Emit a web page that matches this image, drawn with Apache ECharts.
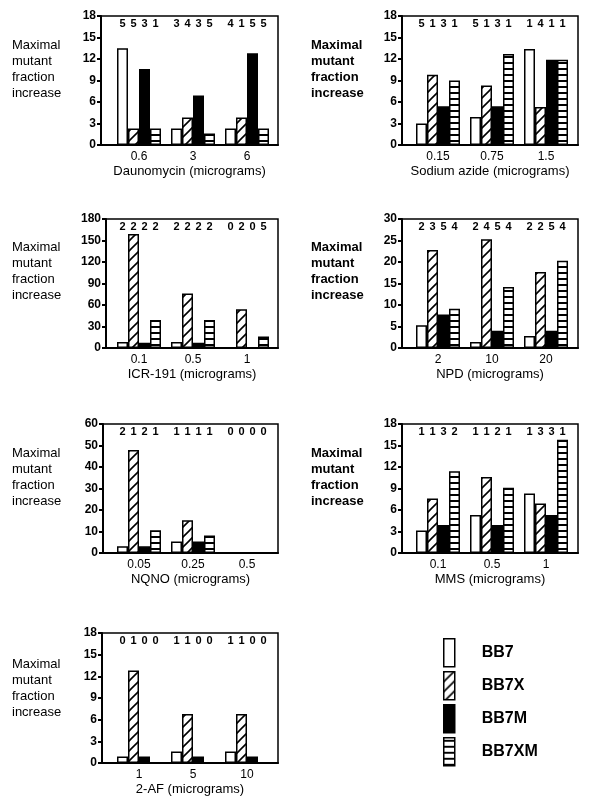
<!DOCTYPE html>
<html>
<head>
<meta charset="utf-8">
<script src="https://cdn.jsdelivr.net/npm/echarts@6/dist/echarts.min.js"></script>
<style>
html,body{margin:0;padding:0;background:#fff;}
#chart{width:597px;height:809px;}
</style>
</head>
<body>
<div id="chart"></div>
<script>
// ---------------- DATA ----------------
const strains = ['BB7', 'BB7X', 'BB7M', 'BB7XM'];

// Daunomycin
const daunoDoses = ['0.6', '3', '6'];
const daunoBB7 = [13.5, 2.3, 2.3];
const daunoBB7X = [2.3, 3.85, 3.85];
const daunoBB7M = [10.6, 6.9, 12.8];
const daunoBB7XM = [2.3, 1.6, 2.3];
const daunoN = [[5, 5, 3, 1], [3, 4, 3, 5], [4, 1, 5, 5]];
const daunoAxis = [0, 18, 3];

// Sodium azide
const azideDoses = ['0.15', '0.75', '1.5'];
const azideBB7 = [3.0, 3.9, 13.4];
const azideBB7X = [9.8, 8.3, 5.3];
const azideBB7M = [5.4, 5.4, 11.9];
const azideBB7XM = [9.0, 12.7, 11.9];
const azideN = [[5, 1, 3, 1], [5, 1, 3, 1], [1, 4, 1, 1]];
const azideAxis = [0, 18, 3];

// ICR-191
const icrDoses = ['0.1', '0.5', '1'];
const icrBB7 = [8.4, 8.4, 0];
const icrBB7X = [159, 76, 54];
const icrBB7M = [7.5, 7.5, 0];
const icrBB7XM = [39, 39, 16];
const icrN = [[2, 2, 2, 2], [2, 2, 2, 2], [0, 2, 0, 5]];
const icrAxis = [0, 180, 30];

// NPD
const npdDoses = ['2', '10', '20'];
const npdBB7 = [5.3, 1.4, 2.8];
const npdBB7X = [22.8, 25.3, 17.7];
const npdBB7M = [7.8, 4.0, 4.0];
const npdBB7XM = [9.1, 14.2, 20.3];
const npdN = [[2, 3, 5, 4], [2, 4, 5, 4], [2, 2, 5, 4]];
const npdAxis = [0, 30, 5];

// NQNO
const nqnoDoses = ['0.05', '0.25', '0.5'];
const nqnoBB7 = [3.1, 5.4, 0];
const nqnoBB7X = [47.9, 15.2, 0];
const nqnoBB7M = [3.1, 5.4, 0];
const nqnoBB7XM = [10.6, 8.1, 0];
const nqnoN = [[2, 1, 2, 1], [1, 1, 1, 1], [0, 0, 0, 0]];
const nqnoAxis = [0, 60, 10];

// MMS
const mmsDoses = ['0.1', '0.5', '1'];
const mmsBB7 = [3.15, 5.3, 8.3];
const mmsBB7X = [7.6, 10.6, 6.9];
const mmsBB7M = [3.9, 3.9, 5.3];
const mmsBB7XM = [11.4, 9.1, 15.8];
const mmsN = [[1, 1, 3, 2], [1, 1, 2, 1], [1, 3, 3, 1]];
const mmsAxis = [0, 18, 3];

// 2-AF
const afDoses = ['1', '5', '10'];
const afBB7 = [0.9, 1.6, 1.6];
const afBB7X = [12.8, 6.8, 6.8];
const afBB7M = [0.9, 0.9, 0.9];
const afBB7XM = [0, 0, 0];
const afN = [[0, 1, 0, 0], [1, 1, 0, 0], [1, 1, 0, 0]];
const afAxis = [0, 18, 3];

const yTitle = 'Maximal\nmutant\nfraction\nincrease';

// ---------------- LAYOUT ----------------
const FONT = "'Liberation Sans', Arial, Helvetica, sans-serif";
const panels = [
  {name: 'Daunomycin (micrograms)', doses: daunoDoses, vals: [daunoBB7, daunoBB7X, daunoBB7M, daunoBB7XM], n: daunoN, axis: daunoAxis,
   frame: [101, 16, 177, 129], barX: 112, titleX: 12, titleY: 37, bold: false},
  {name: 'Sodium azide (micrograms)', doses: azideDoses, vals: [azideBB7, azideBB7X, azideBB7M, azideBB7XM], n: azideN, axis: azideAxis,
   frame: [402, 16, 176, 129], barX: 411, titleX: 311, titleY: 37, bold: true},
  {name: 'ICR-191 (micrograms)', doses: icrDoses, vals: [icrBB7, icrBB7X, icrBB7M, icrBB7XM], n: icrN, axis: icrAxis,
   frame: [106, 219, 172, 129], barX: 112, titleX: 12, titleY: 239, bold: false},
  {name: 'NPD (micrograms)', doses: npdDoses, vals: [npdBB7, npdBB7X, npdBB7M, npdBB7XM], n: npdN, axis: npdAxis,
   frame: [402, 219, 176, 129], barX: 411, titleX: 311, titleY: 239, bold: true},
  {name: 'NQNO (micrograms)', doses: nqnoDoses, vals: [nqnoBB7, nqnoBB7X, nqnoBB7M, nqnoBB7XM], n: nqnoN, axis: nqnoAxis,
   frame: [103, 424, 175, 129], barX: 112, titleX: 12, titleY: 445, bold: false},
  {name: 'MMS (micrograms)', doses: mmsDoses, vals: [mmsBB7, mmsBB7X, mmsBB7M, mmsBB7XM], n: mmsN, axis: mmsAxis,
   frame: [402, 424, 176, 129], barX: 411, titleX: 311, titleY: 445, bold: true},
  {name: '2-AF (micrograms)', doses: afDoses, vals: [afBB7, afBB7X, afBB7M, afBB7XM], n: afN, axis: afAxis,
   frame: [102, 633, 176, 130], barX: 112, titleX: 12, titleY: 656, bold: false}
];

// ---------------- PATTERNS ----------------
function diagPattern() {
  const c = document.createElement('canvas');
  c.width = 10; c.height = 10;
  const g = c.getContext('2d');
  g.fillStyle = '#fff'; g.fillRect(0, 0, 10, 10);
  g.strokeStyle = '#000'; g.lineWidth = 1.6;
  g.beginPath();
  g.moveTo(-2, 12); g.lineTo(12, -2);
  g.moveTo(-7, 7); g.lineTo(7, -7);
  g.moveTo(3, 17); g.lineTo(17, 3);
  g.stroke();
  return c;
}
function horizPattern() {
  const c = document.createElement('canvas');
  c.width = 6; c.height = 6;
  const g = c.getContext('2d');
  g.fillStyle = '#fff'; g.fillRect(0, 0, 6, 6);
  g.fillStyle = '#000'; g.fillRect(0, 2, 6, 2);
  return c;
}
const fills = [
  '#ffffff',
  {image: diagPattern(), repeat: 'repeat'},
  '#000000',
  {image: horizPattern(), repeat: 'repeat'}
];

// ---------------- OPTION ----------------
const grid = [], xAxis = [], yAxis = [], series = [], title = [];
panels.forEach((p, k) => {
  const [fl, ft, fw, fh] = p.frame;
  const [ymin, ymax, yint] = p.axis;
  const gFrame = grid.length;
  grid.push({left: fl, top: ft, width: fw, height: fh, show: true, borderColor: '#000', borderWidth: 1.5, backgroundColor: 'transparent'});
  const gBar = grid.length;
  grid.push({left: p.barX, top: ft, width: 162, height: fh});

  const xFrame = xAxis.length;
  xAxis.push({type: 'category', gridIndex: gFrame, data: p.doses,
    axisLine: {show: true, lineStyle: {color: '#000', width: 2}}, axisTick: {show: false}, axisLabel: {show: false},
    name: p.name, nameLocation: 'middle', nameGap: 20,
    nameTextStyle: {fontFamily: FONT, fontSize: 13, color: '#000'}});
  const xBar = xAxis.length;
  xAxis.push({type: 'category', gridIndex: gBar, data: p.doses,
    axisLine: {show: false}, axisTick: {show: false},
    axisLabel: {fontFamily: FONT, fontSize: 12, color: '#000', margin: 6}});
  const xCnt = xAxis.length;
  xAxis.push({type: 'category', gridIndex: gBar, data: p.doses, show: false});

  const yFrame = yAxis.length;
  yAxis.push({type: 'value', gridIndex: gFrame, min: ymin, max: ymax, interval: yint,
    axisLine: {show: true, lineStyle: {color: '#000', width: 2}},
    axisTick: {show: true, length: 4, lineStyle: {color: '#000', width: 2}},
    splitLine: {show: false},
    axisLabel: {fontFamily: FONT, fontSize: 12, fontWeight: 'bold', color: '#000', margin: 5}});
  const yBar = yAxis.length;
  yAxis.push({type: 'value', gridIndex: gBar, min: ymin, max: ymax, interval: yint, show: false, splitLine: {show: false}});

  strains.forEach((s, i) => {
    series.push({type: 'bar', name: s, xAxisIndex: xBar, yAxisIndex: yBar,
      data: p.vals[i], barWidth: 11, barGap: '0%',
      itemStyle: {color: fills[i], borderColor: '#000', borderWidth: 1.5},
      emphasis: {disabled: true}, silent: true, animation: false});
  });
  strains.forEach((s, i) => {
    series.push({type: 'bar', name: 'n-' + s, xAxisIndex: xCnt, yAxisIndex: yBar,
      data: p.doses.map(() => ymax), barWidth: 11, barGap: '0%',
      itemStyle: {color: 'rgba(0,0,0,0)', borderWidth: 0},
      label: {show: true, position: 'insideTop', distance: 2, fontFamily: FONT, fontSize: 11, fontWeight: 'bold', color: '#000',
        formatter: (q) => String(p.n[q.dataIndex][i])},
      emphasis: {disabled: true}, silent: true, animation: false});
  });

  title.push({text: yTitle, left: p.titleX, top: p.titleY, padding: 0,
    textStyle: {fontFamily: FONT, fontSize: 13, lineHeight: 16, fontWeight: p.bold ? 'bold' : 'normal', color: '#000'}});
});

const option = {
  backgroundColor: '#fff',
  animation: false,
  title: title,
  grid: grid,
  xAxis: xAxis,
  yAxis: yAxis,
  series: series,
  legend: {
    data: strains, orient: 'vertical', left: 443, top: 638, padding: 0,
    itemWidth: 11, itemHeight: 28, itemGap: 3.5, icon: 'rect',
    itemStyle: {borderColor: '#000', borderWidth: 1.5},
    textStyle: {fontFamily: FONT, fontSize: 16, fontWeight: 'bold', color: '#000', padding: [0, 0, 0, 22]},
    selectedMode: false
  }
};

const chart = echarts.init(document.getElementById('chart'), null, {renderer: 'canvas'});
chart.setOption(option);
</script>
</body>
</html>
